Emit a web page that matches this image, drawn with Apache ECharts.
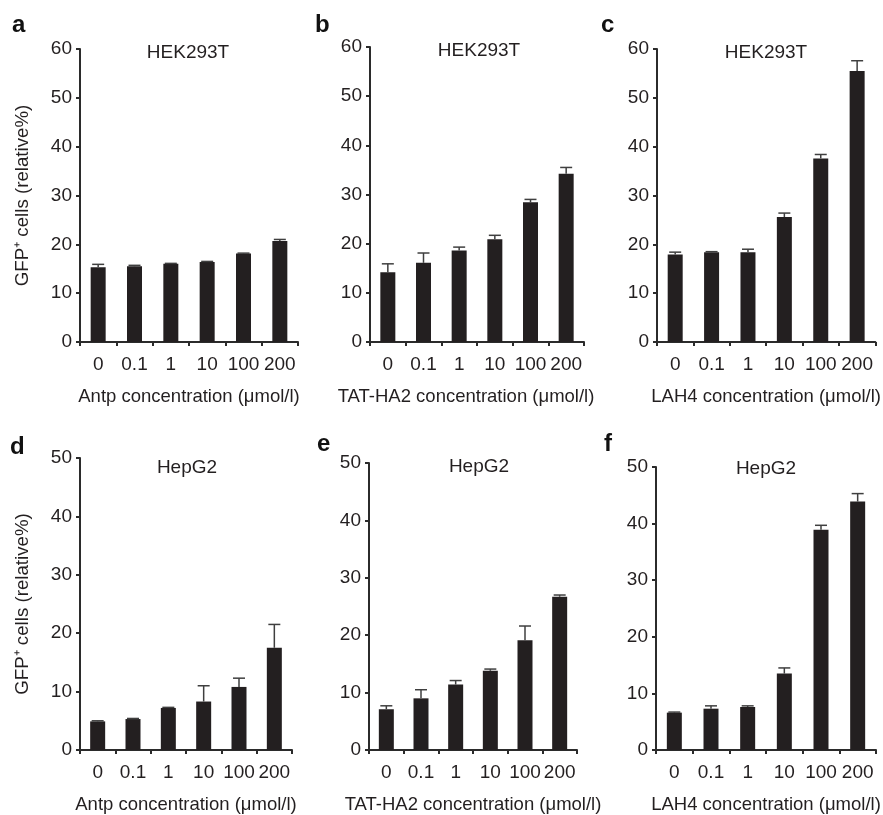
<!DOCTYPE html>
<html><head><meta charset="utf-8">
<script src="https://cdn.jsdelivr.net/npm/echarts@6/dist/echarts.min.js"></script>
<style>html,body{margin:0;padding:0;background:#fff}#c{width:883px;height:815px}</style>
</head><body><div id="c"></div><script>
// ---- data ----
const categories = ['0', '0.1', '1', '10', '100', '200'];
const panelLetters = ['a', 'b', 'c', 'd', 'e', 'f'];
const cellLines = ['HEK293T', 'HEK293T', 'HEK293T', 'HepG2', 'HepG2', 'HepG2'];
const xAxisNames = ['Antp concentration (\u03bcmol/l)', 'TAT-HA2 concentration (\u03bcmol/l)', 'LAH4 concentration (\u03bcmol/l)',
                    'Antp concentration (\u03bcmol/l)', 'TAT-HA2 concentration (\u03bcmol/l)', 'LAH4 concentration (\u03bcmol/l)'];
const yAxisName = 'GFP\u207a cells (relative%)';
const yMax = [60, 60, 60, 50, 50, 50];
const yInterval = 10;

const antpHEK      = [15.3, 15.5, 16.0, 16.4, 18.1, 20.7];
const antpHEKErr   = [0.6, 0.2, 0.1, 0.1, 0.1, 0.3];
const tatHEK       = [14.2, 16.1, 18.6, 20.9, 28.4, 34.2];
const tatHEKErr    = [1.7, 2.0, 0.7, 0.8, 0.6, 1.3];
const lahHEK       = [17.9, 18.4, 18.4, 25.6, 37.6, 55.5];
const lahHEKErr    = [0.5, 0.1, 0.6, 0.8, 0.8, 2.1];
const antpHepG2    = [4.9, 5.3, 7.2, 8.3, 10.8, 17.5];
const antpHepG2Err = [0.1, 0.1, 0.1, 2.7, 1.5, 4.0];
const tatHepG2     = [7.1, 9.0, 11.4, 13.8, 19.1, 26.7];
const tatHepG2Err  = [0.6, 1.5, 0.7, 0.3, 2.5, 0.3];
const lahHepG2     = [6.6, 7.3, 7.6, 13.5, 38.9, 43.9];
const lahHepG2Err  = [0.1, 0.5, 0.2, 1.0, 0.8, 1.4];

const means = [antpHEK, tatHEK, lahHEK, antpHepG2, tatHepG2, lahHepG2];
const errs  = [antpHEKErr, tatHEKErr, lahHEKErr, antpHepG2Err, tatHepG2Err, lahHepG2Err];

// ---- layout ----
const FONT = '"Liberation Sans", Arial, Helvetica, sans-serif';
const TXT = '#231f20';
const grids = [
  {left: 80,  top: 49,  width: 218, height: 293},
  {left: 370, top: 47,  width: 214, height: 295},
  {left: 657, top: 49,  width: 223, height: 293},
  {left: 80,  top: 458, width: 212, height: 295},
  {left: 369, top: 463, width: 208, height: 290},
  {left: 656, top: 467, width: 220, height: 286}
];
const titlePos  = [[188, 53], [479, 51], [766, 53], [187, 468], [479, 467], [766, 469]];
const letterPos = [[12, 37], [315, 37], [601, 37], [10, 459], [317, 456], [604, 456]];
const namePad   = [[0,0,0,0], [0,22,0,0], [0,0,0,0], [0,0,0,0], [0,0,0,0], [0,0,0,0]];

const xAxes = [], yAxes = [], series = [], graphics = [];
grids.forEach((g, i) => {
  xAxes.push({
    type: 'category', gridIndex: i, data: categories,
    axisLine: {lineStyle: {color: '#2b2b2b', width: 2}},
    axisTick: {show: true, length: 4, lineStyle: {color: '#2b2b2b', width: 2}},
    axisLabel: {interval: 0, margin: 13, color: TXT, fontSize: 19, fontFamily: FONT},
    name: xAxisNames[i], nameLocation: 'middle', nameGap: 45,
    nameTextStyle: {color: TXT, fontSize: 18.5, fontFamily: FONT, padding: namePad[i]}
  });
  const ya = {
    type: 'value', gridIndex: i, min: 0, max: yMax[i], interval: yInterval,
    splitLine: {show: false},
    axisLine: {show: true, lineStyle: {color: '#2b2b2b', width: 2}},
    axisTick: {show: true, length: 4, lineStyle: {color: '#2b2b2b', width: 2}},
    axisLabel: {margin: 8, color: TXT, fontSize: 19, fontFamily: FONT}
  };
  if (i === 0 || i === 3) {
    ya.name = yAxisName; ya.nameLocation = 'middle'; ya.nameGap = 48; ya.nameRotate = 90;
    ya.nameTextStyle = {color: TXT, fontSize: 18.7, fontFamily: FONT};
  }
  yAxes.push(ya);
  series.push({
    type: 'bar', xAxisIndex: i, yAxisIndex: i, data: means[i], barWidth: 15,
    itemStyle: {color: '#231f20'}, silent: true
  });
  series.push({
    type: 'custom', xAxisIndex: i, yAxisIndex: i, z: 5, silent: true,
    data: means[i].map((m, k) => [k, m, m + errs[i][k]]),
    encode: {x: 0, y: [1, 2]},
    renderItem: (params, api) => {
      const p0 = api.coord([api.value(0), api.value(1)]);
      const p1 = api.coord([api.value(0), api.value(2)]);
      const hw = 6;
      const st = {stroke: '#3f3f3f', lineWidth: 1.5};
      return {type: 'group', children: [
        {type: 'line', shape: {x1: p0[0], y1: p0[1], x2: p1[0], y2: p1[1]}, style: st},
        {type: 'line', shape: {x1: p1[0] - hw, y1: p1[1], x2: p1[0] + hw, y2: p1[1]}, style: st}
      ]};
    }
  });
  graphics.push({
    type: 'text', x: titlePos[i][0], y: titlePos[i][1],
    style: {text: cellLines[i], fill: TXT, fontSize: 19, fontFamily: FONT, align: 'center', verticalAlign: 'middle'}
  });
  graphics.push({
    type: 'text', x: letterPos[i][0], y: letterPos[i][1],
    style: {text: panelLetters[i], fill: '#111', fontSize: 24, fontWeight: 'bold', fontFamily: FONT, align: 'left', verticalAlign: 'bottom'}
  });
});

const chart = echarts.init(document.getElementById('c'), null, {renderer: 'canvas'});
chart.setOption({
  animation: false,
  backgroundColor: '#fff',
  textStyle: {fontFamily: FONT},
  grid: grids,
  xAxis: xAxes,
  yAxis: yAxes,
  series: series,
  graphic: graphics
});
</script></body></html>
